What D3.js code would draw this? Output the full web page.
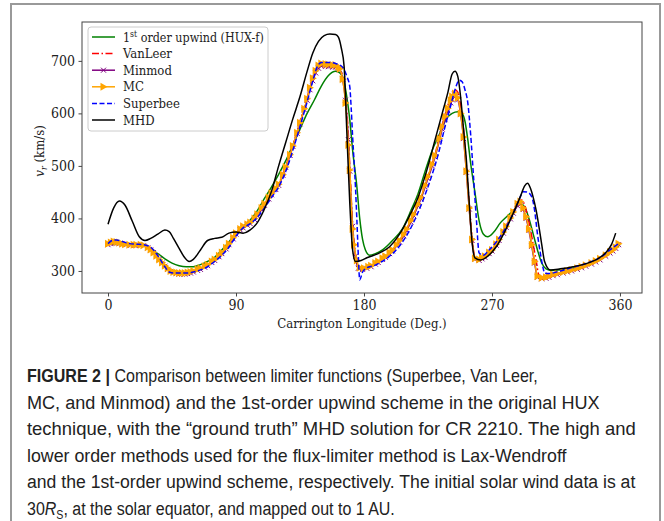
<!DOCTYPE html>
<html>
<head>
<meta charset="utf-8">
<script src="https://cdn.jsdelivr.net/npm/d3@7"></script>
<style>
  body { margin: 0; background: #fff; }
  svg { display: block; }
  .tick text { font-family: "DejaVu Serif Condensed", "DejaVu Serif", serif; font-stretch: condensed; }
  .caption { font-family: "Liberation Sans Narrow", "Liberation Sans", sans-serif; font-size: 18px; fill: #222; }
</style>
</head>
<body>
<div class="graph"></div>
<script>
// longitude (deg) / speed (km/s)
const hux = [[0,350],[5,352],[10,352],[15,351],[20,350],[25,348],[30,342],[35,333],[40,323],[45,315],[50,310],[55,308],[60,308],[65,312],[70,318],[75,326],[80,340],[85,355],[90,372],[95,385],[100,397],[105,415],[110,438],[115,460],[120,484],[125,510],[130,540],[135,570],[140,600],[145,625],[150,652],[155,672],[160,680],[163,677],[166,660],[168,630],[170,588],[172,530],[175,460],[177,400],[179,360],[181,340],[184,330],[188,333],[193,340],[200,358],[207,380],[213,415],[218,447],[223,490],[228,530],[233,560],[238,590],[242,600],[246,603],[249,600],[251,585],[253,550],[255,505],[258,450],[261,395],[264,370],[267,365],[271,373],[276,392],[281,405],[286,418],[290,428],[293,422],[296,400],[299,370],[302,340],[305,315],[308,304],[312,301],[320,303],[330,307],[340,315],[350,330],[355,340],[360,350]];

const vanLeer = [[0,352],[3,356],[6,356],[10,353],[15,350],[20,350],[25,349],[28,345],[32,336],[36,323],[40,311],[44,301],[48,298],[52,297],[56,298],[60,300],[65,305],[70,312],[75,322],[80,335],[85,352],[90,372],[95,384],[100,392],[105,408],[110,428],[115,448],[120,466],[125,500],[130,540],[135,585],[140,630],[144,668],[147,688],[150,694],[155,692],[160,691],[163,686],[165,670],[167,630],[169,560],[170,500],[172,390],[174,330],[176,308],[179,305],[185,310],[190,318],[195,328],[200,340],[205,358],[210,380],[215,408],[220,440],[225,480],[230,522],[235,578],[239,615],[242,640],[244,645],[246,640],[248,615],[250,570],[252,500],[254,430],[256,365],[258,326],[261,323],[265,328],[270,340],[275,360],[280,386],[285,414],[288,430],[291,435],[293,425],[295,405],[297,380],[299,350],[301,321],[303,292],[306,288],[310,290],[320,298],[330,305],[340,315],[350,330],[355,340],[359,352]];

const minmod = [[0,350],[2,352],[4,353],[6,353],[8,352],[10,351],[13,350],[16,349],[19,349],[22,349],[25,348],[28,344],[30,340],[32,335],[34,328],[36,322],[38,315],[40,309],[42,303],[44,299],[46,297],[48,295],[50,294],[52,294],[54,294],[56,295],[58,296],[60,298],[63,301],[65,303],[68,307],[70,310],[73,316],[75,320],[78,327],[80,333],[83,342],[85,350],[88,361],[90,370],[93,378],[95,382],[98,387],[100,390],[103,398],[105,405],[108,417],[110,425],[113,437],[115,445],[118,455],[120,463],[123,482],[125,497],[128,520],[130,537],[133,562],[135,580],[138,607],[140,625],[142,645],[144,662],[146,677],[148,686],[150,690],[153,690],[155,689],[158,688],[160,688],[162,686],[163,683],[165,665],[167,625],[169,550],[170,490],[172,385],[174,328],[176,305],[179,303],[182,305],[185,308],[188,313],[190,316],[193,322],[195,326],[198,333],[200,338],[203,348],[205,355],[208,367],[210,377],[213,393],[215,405],[218,424],[220,437],[223,460],[225,476],[228,500],[230,517],[233,548],[235,570],[237,588],[239,605],[241,620],[242,626],[244,632],[246,626],[248,598],[250,552],[252,488],[254,418],[256,358],[258,322],[261,320],[263,323],[265,326],[268,333],[270,338],[273,349],[275,358],[278,372],[280,383],[283,399],[285,410],[288,424],[290,427],[292,417],[294,400],[296,377],[298,347],[300,315],[302,288],[305,285],[308,286],[310,288],[313,291],[316,293],[320,296],[323,298],[326,300],[330,303],[333,306],[336,309],[340,313],[343,317],[346,321],[350,328],[353,334],[355,338],[357,343],[359,350]];

const mc = [[0,352],[2,354],[4,356],[6,355],[8,354],[10,352],[12,351],[15,350],[18,350],[20,350],[23,350],[25,349],[28,345],[30,341],[32,335],[34,329],[36,322],[38,316],[40,310],[42,305],[44,300],[46,298],[48,297],[50,296],[52,296],[54,296],[56,297],[58,298],[60,300],[63,303],[65,305],[68,309],[70,312],[73,318],[75,322],[78,329],[80,335],[83,344],[85,352],[88,363],[90,372],[93,380],[95,385],[98,389],[100,392],[103,400],[105,408],[108,420],[110,428],[113,440],[115,448],[118,457],[120,465],[123,483],[125,498],[128,521],[130,538],[133,563],[135,582],[138,609],[140,628],[142,649],[144,667],[146,681],[148,691],[150,695],[153,694],[155,693],[158,692],[160,692],[162,689],[163,685],[165,665],[167,620],[169,540],[170,492],[172,380],[173,350],[175,320],[177,306],[180,305],[183,308],[185,310],[188,315],[190,318],[193,324],[195,328],[198,335],[200,340],[203,350],[205,358],[208,370],[210,380],[213,396],[215,408],[218,427],[220,440],[223,463],[225,480],[228,503],[230,520],[233,552],[235,575],[237,594],[239,610],[241,625],[242,632],[244,638],[246,630],[248,600],[250,555],[252,490],[254,420],[256,360],[258,324],[261,322],[263,325],[265,328],[268,335],[270,340],[273,351],[275,360],[278,374],[280,385],[283,401],[285,412],[288,428],[290,432],[292,420],[294,403],[296,380],[298,350],[300,318],[302,290],[305,287],[308,288],[310,290],[313,293],[316,295],[320,298],[323,300],[326,302],[330,305],[333,308],[336,311],[340,315],[343,319],[346,323],[350,330],[353,336],[355,340],[357,345],[359,352]];

const superbee = [[0,352],[3,358],[6,359],[10,356],[15,352],[20,351],[25,350],[28,348],[32,340],[36,325],[40,308],[43,298],[46,296],[52,296],[56,296],[60,298],[65,302],[70,308],[75,318],[80,330],[85,345],[90,366],[95,382],[100,390],[105,402],[110,420],[115,440],[120,460],[125,490],[130,530],[135,575],[140,622],[144,662],[147,688],[150,697],[155,697],[160,695],[165,688],[168,670],[170,651],[171,610],[172,556],[174,460],[175,397],[176,330],[177,283],[179,298],[182,306],[187,310],[192,317],[197,326],[202,338],[207,355],[212,377],[217,405],[222,438],[227,476],[232,520],[237,575],[241,615],[244,645],[247,663],[249,660],[251,645],[253,620],[255,560],[257,480],[259,400],[261,334],[264,330],[268,340],[273,355],[280,384],[285,410],[289,435],[292,451],[295,450],[298,441],[300,415],[302,370],[304,334],[306,305],[307,296],[310,295],[318,300],[327,307],[337,315],[347,327],[353,340],[359,352]];

const mhd = [[0,389],[4,420],[8,433],[12,425],[17,395],[22,365],[26,358],[30,362],[35,370],[40,378],[43,375],[46,362],[50,343],[54,325],[57,318],[60,322],[65,340],[70,358],[75,362],[80,364],[85,372],[90,374],[95,372],[100,378],[105,392],[110,418],[115,452],[120,500],[125,545],[130,590],[135,632],[140,680],[144,715],[148,737],[152,748],[156,751],[160,750],[162,745],[164,725],[166,690],[168,560],[170,430],[172,340],[174,318],[178,320],[182,325],[190,333],[198,346],[205,370],[212,405],[218,440],[224,490],[230,550],[235,600],[239,640],[242,675],[244,680],[246,670],[248,630],[250,570],[252,511],[254,430],[256,355],[258,325],[262,321],[267,328],[273,346],[279,375],[285,410],[290,442],[293,462],[295,467],[297,458],[299,440],[301,416],[303,385],[305,350],[307,318],[311,302],[318,304],[327,308],[335,313],[343,321],[350,335],[354,350],[357,372]];

const xTicks = [0, 90, 180, 270, 360];
const yTicks = [300, 400, 500, 600, 700];

const captionLines = [
  "Comparison between limiter functions (Superbee, Van Leer,",
  "MC, and Minmod) and the 1st-order upwind scheme in the original HUX",
  "technique, with the \u201cground truth\u201d MHD solution for CR 2210. The high and",
  "lower order methods used for the flux-limiter method is Lax-Wendroff",
  "and the 1st-order upwind scheme, respectively. The initial solar wind data is at",
  ", at the solar equator, and mapped out to 1 AU."
];
const captionWidths = [511, 573, 609, 540, 609, 368];

const w = 664;
const h = 521;
const margin = {top: 22, right: 22, bottom: 228, left: 82};
const serif = '"DejaVu Serif Condensed", "DejaVu Serif", serif';

const svg = d3.select('.graph')
  .append('svg')
  .attr('width', w)
  .attr('height', h);

// squeeze a text horizontally to a given width, anchored at x0
function fitWidth(sel, x0, target) {
  const len = sel.node().getComputedTextLength();
  const k = target / len;
  sel.attr('transform', `translate(${x0},0) scale(${k},1) translate(${-x0},0)`);
}

// frame around the whole figure
svg.append('rect')
  .attr('x', 11).attr('y', 4)
  .attr('width', 649).attr('height', 540)
  .attr('fill', 'none')
  .attr('stroke', '#999')
  .attr('stroke-width', 2);

const xScale = d3.scaleLinear()
  .domain([-18.3, 375.5])
  .range([margin.left, w - margin.right]);

const yScale = d3.scaleLinear()
  .domain([258, 774])
  .range([h - margin.bottom, margin.top]);

const xAxis = svg.append('g')
  .attr('transform', `translate(0, ${h - margin.bottom})`)
  .call(d3.axisBottom(xScale).tickValues(xTicks).tickSizeOuter(0).tickSize(3.5).tickPadding(3.5));

const yAxis = svg.append('g')
  .attr('transform', `translate(${margin.left}, 0)`)
  .call(d3.axisLeft(yScale).tickValues(yTicks).tickSizeOuter(0).tickSize(3.5).tickPadding(3.5));

[xAxis, yAxis].forEach(a => {
  a.select('.domain').remove();
  a.selectAll('.tick line').attr('stroke', '#444');
  a.selectAll('.tick text').attr('font-size', 14).attr('fill', '#222');
});

svg.append('text')
  .attr('x', (margin.left + w - margin.right) / 2)
  .attr('y', 328)
  .attr('text-anchor', 'middle')
  .attr('font-family', serif)
  .attr('font-stretch', 'condensed')
  .attr('font-size', 13)
  .attr('fill', '#222')
  .text('Carrington Longitude (Deg.)');

const yLabel = svg.append('text')
  .attr('transform', 'rotate(-90)')
  .attr('x', -151)
  .attr('y', 44)
  .attr('text-anchor', 'middle')
  .attr('font-family', serif)
  .attr('font-stretch', 'condensed')
  .attr('font-size', 13)
  .attr('fill', '#222');
yLabel.append('tspan').attr('font-style', 'italic').text('v');
yLabel.append('tspan').attr('font-style', 'italic').attr('font-size', 9).attr('dy', 3).text('r');
yLabel.append('tspan').attr('dy', -3).text(' (km/s)');

const line = d3.line()
  .x(d => xScale(d[0]))
  .y(d => yScale(d[1]))
  .curve(d3.curveMonotoneX);

const series = [
  {name: 'hux', data: hux, color: '#008000', dash: null},
  {name: 'VanLeer', data: vanLeer, color: '#ff0000', dash: '7,2.5,1.5,2.5'},
  {name: 'Minmod', data: minmod, color: '#800080', dash: null, marker: 'x'},
  {name: 'MC', data: mc, color: '#ffa500', dash: null, marker: 'tri'},
  {name: 'Superbee', data: superbee, color: '#0000ff', dash: '5,2.5'},
  {name: 'MHD', data: mhd, color: '#000000', dash: null}
];

const plot = svg.append('g');

function drawMarker(g, type, color, cx, cy) {
  if (type === 'x') {
    g.append('path')
      .attr('d', `M${cx - 2.5},${cy - 2.5}L${cx + 2.5},${cy + 2.5}M${cx - 2.5},${cy + 2.5}L${cx + 2.5},${cy - 2.5}`)
      .attr('stroke', color)
      .attr('stroke-width', 1);
  } else if (type === 'tri') {
    g.append('path')
      .attr('d', `M${cx + 4},${cy}L${cx - 3},${cy - 4}L${cx - 3},${cy + 4}Z`)
      .attr('fill', color);
  }
}

series.forEach(s => {
  plot.append('path')
    .datum(s.data)
    .attr('fill', 'none')
    .attr('stroke', s.color)
    .attr('stroke-width', 1.5)
    .attr('stroke-dasharray', s.dash)
    .attr('d', line);
  if (s.marker) {
    const mg = plot.append('g');
    s.data.forEach(d => drawMarker(mg, s.marker, s.color, xScale(d[0]), yScale(d[1])));
  }
});

// axes box on top
svg.append('rect')
  .attr('x', margin.left).attr('y', margin.top)
  .attr('width', w - margin.left - margin.right)
  .attr('height', h - margin.top - margin.bottom)
  .attr('fill', 'none')
  .attr('stroke', '#444')
  .attr('stroke-width', 1);

// legend
const legend = svg.append('g').attr('transform', 'translate(88, 27)');
legend.append('rect')
  .attr('width', 180).attr('height', 104)
  .attr('rx', 3)
  .attr('fill', 'rgba(255,255,255,0.8)')
  .attr('stroke', '#ccc');

series.forEach((s, i) => {
  const yy = 10 + i * 16.6;
  const row = legend.append('g').attr('transform', `translate(0, ${yy})`);
  row.append('line')
    .attr('x1', 4).attr('x2', 27)
    .attr('stroke', s.color)
    .attr('stroke-width', 1.5)
    .attr('stroke-dasharray', s.dash);
  if (s.marker) drawMarker(row, s.marker, s.color, 15.5, 0);
  const t = row.append('text')
    .attr('x', 35).attr('y', 4.5)
    .attr('font-family', serif)
    .attr('font-stretch', 'condensed')
    .attr('font-size', 13)
    .attr('fill', '#222');
  if (s.name === 'hux') {
    t.append('tspan').text('1');
    t.append('tspan').attr('font-size', 9).attr('dy', -5).text('st');
    t.append('tspan').attr('dy', 5).text(' order upwind (HUX-f)');
    fitWidth(t, 35, 141);
  } else {
    t.text(s.name);
  }
});

// caption
const cap = svg.append('g').attr('class', 'caption');
captionLines.forEach((txt, i) => {
  const t = cap.append('text')
    .attr('x', 27)
    .attr('y', 382 + i * 26.6);
  if (i === 0) {
    t.append('tspan').attr('font-weight', 'bold').text('FIGURE 2 | ');
    t.append('tspan').text(txt);
  } else if (i === 5) {
    t.append('tspan').text('30');
    t.append('tspan').attr('font-style', 'italic').text('R');
    t.append('tspan').attr('font-size', 12).attr('dy', 4).text('S');
    t.append('tspan').attr('dy', -4).text(txt);
  } else {
    t.text(txt);
  }
  fitWidth(t, 27, captionWidths[i]);
});
</script>
</body>
</html>
